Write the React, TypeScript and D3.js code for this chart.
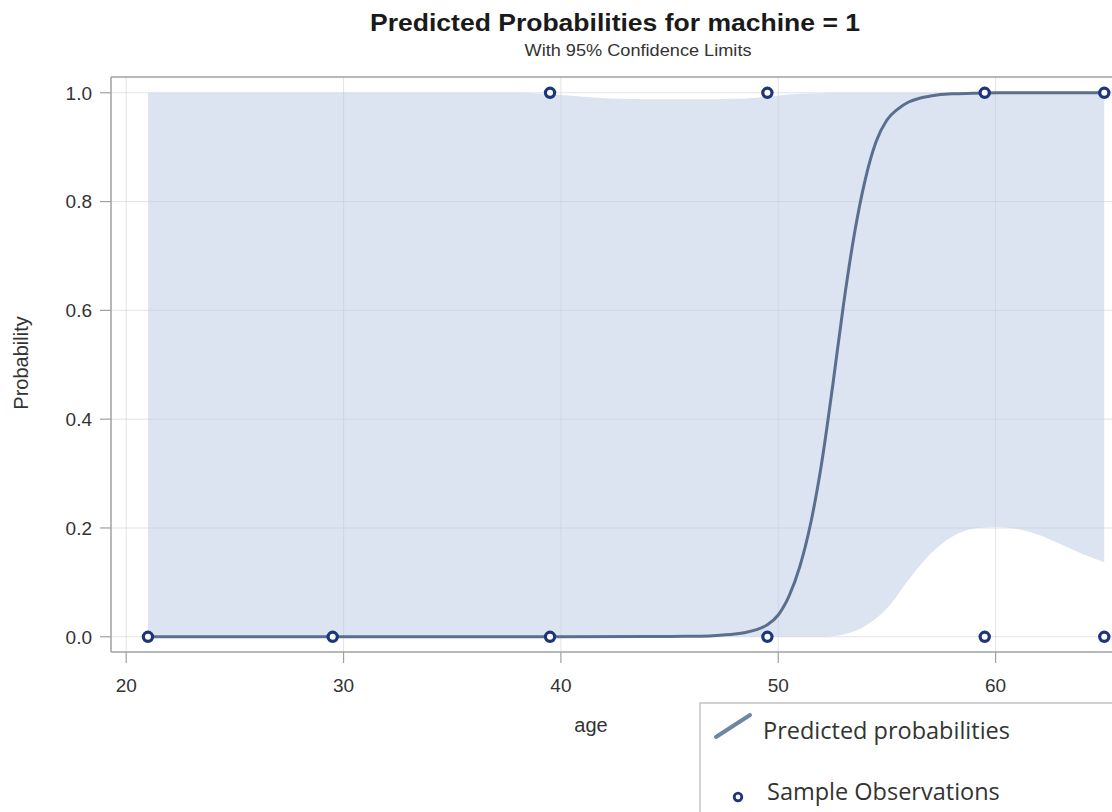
import React from "react";
import * as d3 from "d3";

// ---- data ----
const predAge = [21, 25, 30, 35, 40, 44, 45, 46, 47, 48, 48.5, 49, 49.5, 50, 50.5, 51, 51.5, 52, 52.5, 53, 53.5, 54, 54.5, 55, 55.5, 56, 56.5, 57, 58, 59, 60, 62, 65];
const predProb = [0, 0, 0, 0, 0, 0.0003, 0.0006, 0.001, 0.002, 0.005, 0.008, 0.013, 0.022, 0.04, 0.075, 0.13, 0.21, 0.32, 0.46, 0.61, 0.74, 0.84, 0.91, 0.95, 0.97, 0.983, 0.99, 0.994, 0.998, 0.999, 1, 1, 1];

const ciAge = [21, 30, 38, 40, 42, 44, 46, 48, 49, 50, 51, 52, 52.5, 53, 53.5, 54, 55, 56, 57, 58, 59, 60, 61, 62, 63, 64, 65];
const ciLower = [0, 0, 0, 0, 0, 0, 0, 0, 0, 0, 0, 0, 0.001, 0.004, 0.01, 0.02, 0.052, 0.105, 0.152, 0.184, 0.199, 0.202, 0.198, 0.187, 0.17, 0.152, 0.137];
const ciUpper = [1, 1, 1, 0.996, 0.99, 0.988, 0.988, 0.989, 0.991, 0.995, 0.998, 0.999, 1, 1, 1, 1, 1, 1, 1, 1, 1, 1, 1, 1, 1, 1, 1];

const obsAge = [21, 29.5, 39.5, 39.5, 49.5, 49.5, 59.5, 59.5, 65, 65];
const obsValue = [0, 0, 0, 1, 0, 1, 0, 1, 0, 1];

const xTicks = [20, 30, 40, 50, 60];
const yTicks = [0, 0.2, 0.4, 0.6, 0.8, 1.0];

const titleText = "Predicted Probabilities for machine = 1";
const subtitleText = "With 95% Confidence Limits";
const xLabel = "age";
const yLabel = "Probability";
const legendLine = "Predicted probabilities";
const legendMarker = "Sample Observations";

export default function App() {
  const W = 1112, H = 812;
  const left = 111, right = 1126, top = 77, bottom = 652;
  const x = d3.scaleLinear().domain([19.3, 66]).range([left, right]);
  const y = d3.scaleLinear().domain([-0.028, 1.029]).range([bottom, top]);

  const band = d3
    .area<number>()
    .x((_, i) => x(ciAge[i]))
    .y0((_, i) => y(ciLower[i]))
    .y1((_, i) => y(ciUpper[i]))
    .curve(d3.curveMonotoneX)(ciAge);

  const line = d3
    .line<number>()
    .x((_, i) => x(predAge[i]))
    .y((_, i) => y(predProb[i]))
    .curve(d3.curveMonotoneX)(predAge);

  const font = "'Liberation Sans', Arial, sans-serif";
  const legFont = "'Open Sans', 'Noto Sans', sans-serif";

  return (
    <svg width={W} height={H} style={{ position: "absolute", left: 0, top: 0, background: "#fff" }}>
      <defs>
        <clipPath id="plotclip">
          <rect x={left} y={top} width={right - left} height={bottom - top} />
        </clipPath>
      </defs>
      <rect x={0} y={0} width={W} height={H} fill="#fff" />
      {/* title */}
      <text x={615} y={31} textAnchor="middle" fontFamily={font} fontWeight="bold" fontSize={23}
        fill="#1a1a1a" textLength={490} lengthAdjust="spacingAndGlyphs">{titleText}</text>
      <text x={638} y={56} textAnchor="middle" fontFamily={font} fontSize={17}
        fill="#333" textLength={227} lengthAdjust="spacingAndGlyphs">{subtitleText}</text>

      <g clipPath="url(#plotclip)">
        <path d={band ?? ""} fill="#dce4f2" />
        {xTicks.map((t) => (
          <line key={"gx" + t} x1={x(t)} x2={x(t)} y1={top} y2={bottom} stroke="#c8ccd4" strokeOpacity={0.55} />
        ))}
        {yTicks.map((t) => (
          <line key={"gy" + t} x1={left} x2={right} y1={y(t)} y2={y(t)} stroke="#c8ccd4" strokeOpacity={0.55} />
        ))}
        <path d={line ?? ""} fill="none" stroke="#5a6f8e" strokeWidth={3} />
        {obsAge.map((a, i) => (
          <circle key={"o" + i} cx={x(a)} cy={y(obsValue[i])} r={4.6} fill="#fff" stroke="#1d3677" strokeWidth={3.2} />
        ))}
      </g>

      {/* frame */}
      <line x1={left} x2={left} y1={top} y2={bottom} stroke="#a0a0a0" strokeWidth={1.5} />
      <line x1={left} x2={W} y1={top} y2={top} stroke="#a0a0a0" strokeWidth={1.5} />
      <line x1={left} x2={W} y1={bottom} y2={bottom} stroke="#a0a0a0" strokeWidth={1.5} />

      {/* y axis */}
      {yTicks.map((t) => (
        <g key={"yt" + t}>
          <line x1={left - 11} x2={left} y1={y(t)} y2={y(t)} stroke="#a0a0a0" strokeWidth={1.2} />
          <text x={92} y={y(t)} dy="0.36em" textAnchor="end" fontFamily={font} fontSize={19} fill="#333">
            {t.toFixed(1)}
          </text>
        </g>
      ))}
      {/* x axis */}
      {xTicks.map((t) => (
        <g key={"xt" + t}>
          <line x1={x(t)} x2={x(t)} y1={bottom} y2={bottom + 11} stroke="#a0a0a0" strokeWidth={1.2} />
          <text x={x(t)} y={692} textAnchor="middle" fontFamily={font} fontSize={19} fill="#333">
            {t}
          </text>
        </g>
      ))}
      <text x={591} y={732} textAnchor="middle" fontFamily={font} fontSize={20} fill="#333">{xLabel}</text>
      <text transform="translate(28,363) rotate(-90)" textAnchor="middle" fontFamily={font} fontSize={20} fill="#333">
        {yLabel}
      </text>

      {/* legend */}
      <rect x={700} y={703} width={500} height={200} fill="#fff" stroke="#c4c4c4" strokeWidth={1.5} />
      <line x1={716} y1={737} x2={750} y2={715} stroke="#6e86a6" strokeWidth={4} strokeLinecap="round" />
      <text x={763} y={739} fontFamily={legFont} fontSize={23.5} fill="#333">{legendLine}</text>
      <circle cx={738} cy={797} r={3.8} fill="#fff" stroke="#1d3677" strokeWidth={2.8} />
      <text x={767} y={800} fontFamily={legFont} fontSize={23.5} fill="#333">{legendMarker}</text>
    </svg>
  );
}
